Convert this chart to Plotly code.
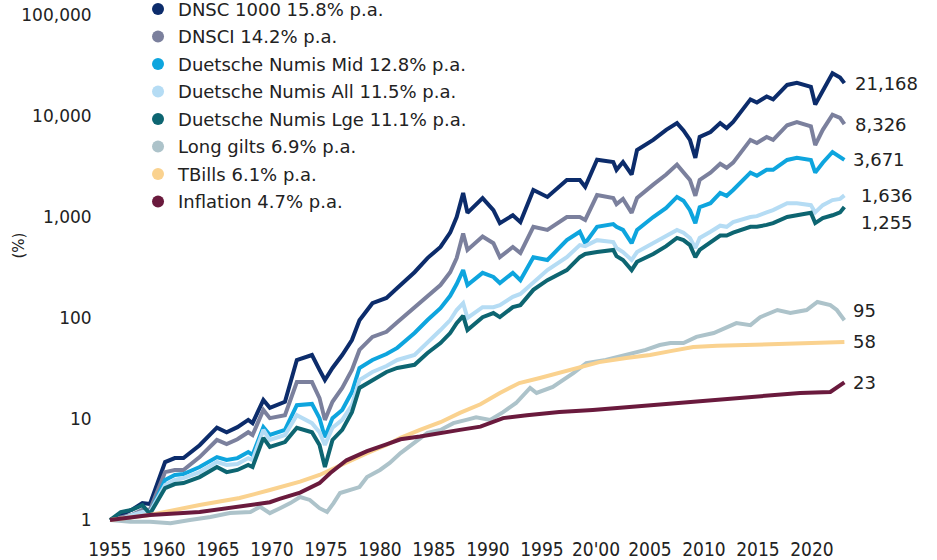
import math
import plotly.graph_objects as go

# ---------------- data ----------------
years = [1955.0, 1956.0, 1957.0, 1958.0, 1958.7, 1960.1, 1961.0, 1961.8, 1963.3, 1964.9,
         1965.8, 1966.8, 1967.8, 1968.2, 1969.2, 1969.8, 1971.2, 1972.3, 1973.7, 1974.4,
         1974.9, 1975.6, 1976.5, 1977.4, 1978.1, 1979.3, 1980.6, 1981.6, 1983.2, 1984.4,
         1985.6, 1986.5, 1987.1, 1987.7, 1988.1, 1989.5, 1990.5, 1991.1, 1992.3, 1993.0,
         1994.2, 1995.5, 1997.3, 1998.5, 1999.0, 2000.1, 2001.6, 2001.9, 2002.5, 2003.3,
         2003.8, 2005.3, 2006.5, 2007.5, 2008.1, 2008.7, 2009.2, 2009.6, 2010.6, 2011.5,
         2012.1, 2012.7, 2014.3, 2014.9, 2015.8, 2016.4, 2017.7, 2018.6, 2019.9, 2020.3,
         2021.0, 2021.9, 2022.6, 2023.0]

dnsc1000 = [1.0, 1.12, 1.26, 1.47, 1.44, 3.75, 4.1, 4.1, 5.5, 8.2,
            7.4, 8.3, 9.8, 9.1, 15.4, 12.9, 14.8, 38.4, 43, 30.6,
            24.3, 32, 43, 60.5, 95, 140, 158, 198, 284, 392,
            505, 700, 1000, 1730, 1100, 1540, 1170, 870, 1040, 890,
            1850, 1580, 2330, 2330, 1990, 3690, 3500, 2930, 3500, 2630,
            4600, 5800, 7300, 8500, 7200, 5800, 3850, 6200, 6950, 8500,
            7600, 8750, 14600, 13600, 15600, 14600, 20300, 21300, 19400, 13000,
            18000, 26500, 24000, 21168]

dnsci = [1.0, 1.05, 1.12, 1.26, 1.26, 2.98, 3.13, 3.13, 4.2, 6.2,
         5.65, 6.3, 7.4, 6.95, 12.3, 10.2, 10.9, 23.2, 23.2, 16.1,
         9.8, 14.8, 20.3, 30.6, 48.3, 65, 73, 91, 128, 169,
         212, 284, 392, 685, 472, 640, 550, 400, 505, 440,
         800, 745, 1000, 1000, 935, 1650, 1540, 1340, 1510, 1100,
         1540, 2090, 2630, 3300, 2810, 2330, 1620, 2330, 2750, 3370,
         3070, 3450, 5800, 5400, 6200, 5800, 8100, 8700, 7900, 5150,
         7300, 10300, 9600, 8326]

numis_mid = [1.0, 1.0, 1.07, 1.12, 1.17, 2.49, 2.79, 2.85, 3.35, 4.2,
             3.93, 4.1, 4.7, 4.4, 8.3, 6.95, 7.8, 13.7, 14.1, 10.2,
             6.6, 10.2, 12.3, 18.5, 32, 38.4, 44, 50.6, 71, 95.5,
             125, 166, 217, 298, 212, 280, 255, 222, 280, 237,
             400, 375, 590, 715, 550, 800, 850, 800, 745, 550,
             745, 1000, 1230, 1580, 1450, 1170, 870, 1250, 1370, 1730,
             1620, 1850, 2750, 2560, 2930, 2930, 3670, 3850, 3670, 2750,
             3450, 4400, 3850, 3671]

numis_all = [1.0, 1.02, 1.12, 1.2, 1.2, 2.22, 2.49, 2.6, 2.98, 3.75,
             3.51, 3.59, 4.1, 3.93, 7.8, 6.2, 6.95, 10.9, 9.1, 7.4,
             5.53, 8.2, 9.8, 13.7, 24.3, 29.2, 33.5, 38.4, 43, 56.5,
             76, 95.5, 120, 140, 100, 128, 128, 134, 162, 173,
             222, 298, 400, 527, 515, 590, 565, 493, 450, 375,
             450, 550, 655, 745, 700, 620, 493, 620, 715, 820,
             800, 890, 1000, 1020, 1110, 1170, 1370, 1370, 1310, 1110,
             1310, 1470, 1510, 1636]

numis_lge = [1.0, 1.2, 1.26, 1.4, 1.15, 2.07, 2.27, 2.32, 2.66, 3.35,
             2.98, 3.13, 3.51, 3.35, 6.5, 5.3, 5.9, 8.2, 7.4, 5.53,
             3.35, 6.2, 7.8, 11.7, 20.3, 24.3, 29.2, 32, 34.4, 45,
             56.5, 71, 89, 105, 76, 102, 112, 102, 128, 134,
             190, 237, 298, 400, 430, 450, 472, 410, 375, 298,
             360, 430, 515, 620, 590, 527, 400, 472, 565, 655,
             655, 700, 800, 800, 835, 870, 1000, 1040, 1100, 870,
             975, 1040, 1110, 1255]

gilts_years = [1955.0, 1956.9, 1958.7, 1960.6, 1962.4, 1964.3, 1966.1, 1968.0, 1968.9, 1969.8,
               1970.7, 1971.7, 1972.6, 1973.5, 1974.4, 1975.1, 1975.7, 1976.3, 1978.1, 1978.8,
               1980.0, 1980.9, 1981.9, 1983.1, 1984.4, 1985.6, 1986.8, 1988.0, 1988.9, 1990.2,
               1991.4, 1992.6, 1993.9, 1994.5, 1996.0, 1997.9, 1999.1, 2000.9, 2002.8, 2004.6,
               2005.9, 2006.9, 2008.1, 2009.3, 2010.9, 2012.1, 2013.0, 2014.3, 2015.2, 2016.8,
               2018.0, 2019.5, 2020.5, 2021.7, 2022.3, 2023.0]
gilts = [1.0, 0.96, 0.96, 0.93, 1.0, 1.07, 1.17, 1.2, 1.35, 1.17,
         1.3, 1.47, 1.69, 1.58, 1.31, 1.2, 1.47, 1.85, 2.12, 2.66,
         3.13, 3.67, 4.6, 5.8, 7.3, 7.8, 9.1, 9.8, 10.4, 9.8,
         11.7, 14.4, 20.3, 18.1, 20.8, 28.5, 35.8, 38.4, 43, 48.3,
         54, 56.5, 56.5, 65, 71, 81.5, 89, 85, 102, 120,
         112, 120, 144, 134, 120, 95]

tbills_years = [1955.0, 1958.7, 1963.3, 1967.0, 1969.8, 1972.6, 1974.4, 1975.4, 1976.9, 1978.8,
                1980.6, 1981.9, 1983.7, 1985.6, 1987.4, 1989.3, 1991.1, 1992.9, 1994.8, 1996.6,
                1998.5, 2000.3, 2002.8, 2005.0, 2006.9, 2009.0, 2011.2, 2016.0, 2023.0]
tbills = [1.0, 1.12, 1.41, 1.65, 1.98, 2.4, 2.79, 3.13, 3.75, 4.6,
          5.53, 6.5, 7.8, 9.3, 11.5, 14.0, 18.1, 22.7, 25.5, 28.5,
          32.7, 36.6, 40.2, 43, 47, 51.5, 53, 55, 58]

infl_years = [1955.0, 1958.7, 1963.3, 1967.0, 1969.8, 1970.7, 1972.6, 1974.4, 1975.4, 1976.9,
              1978.8, 1980.6, 1981.9, 1983.7, 1985.6, 1987.4, 1989.3, 1990.2, 1991.4, 1993.6,
              1996.6, 1999.7, 2002.8, 2005.9, 2008.5, 2011.2, 2014.3, 2018.9, 2021.7, 2023.0]
inflation = [1.0, 1.12, 1.2, 1.35, 1.5, 1.62, 1.87, 2.32, 2.92, 3.9,
             4.8, 5.6, 6.3, 6.7, 7.3, 7.8, 8.4, 9.1, 10.2, 10.9,
             11.7, 12.3, 13.1, 13.7, 14.5, 15.4, 16.5, 18.1, 18.5, 23]

series_names = ["DNSC 1000 15.8% p.a.", "DNSCI 14.2% p.a.", "Duetsche Numis Mid 12.8% p.a.",
                "Duetsche Numis All 11.5% p.a.", "Duetsche Numis Lge 11.1% p.a.",
                "Long gilts 6.9% p.a.", "TBills 6.1% p.a.", "Inflation 4.7% p.a."]
end_labels = ["21,168", "8,326", "3,671", "1,636", "1,255", "95", "58", "23"]

x_tickvals = [1955, 1960, 1965, 1970, 1975, 1980, 1985, 1990, 1995, 2000, 2005, 2010, 2015, 2020]
x_ticktext = ["1955", "1960", "1965", "1970", "1975", "1980", "1985", "1990", "1995",
              "20'00", "2005", "2010", "2015", "2020"]
y_tickvals = [1, 10, 100, 1000, 10000, 100000]
y_ticktext = ["1", "10", "100", "1,000", "10,000", "100,000"]

# ---------------- styling ----------------
colors = ["#0c2c6b", "#7b809d", "#0ea5de", "#b5dcf4", "#0d6571", "#adc3ca", "#fad28f", "#6a1a3d"]
FONT = "DejaVu Sans"
TXT = "#222222"

xs = [years, years, years, years, years, gilts_years, tbills_years, infl_years]
ys = [dnsc1000, dnsci, numis_mid, numis_all, numis_lge, gilts, tbills, inflation]

fig = go.Figure()
for i in range(8):
    fig.add_trace(go.Scatter(x=xs[i], y=ys[i], mode="lines",
                             line=dict(color=colors[i], width=4),
                             showlegend=False, hoverinfo="skip"))
for i in range(8):
    fig.add_trace(go.Scatter(x=[None], y=[None], mode="markers", name=series_names[i],
                             marker=dict(color=colors[i], size=15),
                             legendgroup="g%d" % i, showlegend=True))

label_shift = [0, 0, 0, 0, -15, 10, 0, 0]
label_xshift = [753, 753, 751, 759, 759, 751, 751, 751]
for i in range(8):
    fig.add_annotation(x=0, xref="paper", y=math.log10(ys[i][-1]), yref="y",
                       text=end_labels[i], showarrow=False, xanchor="left",
                       xshift=label_xshift[i], yshift=label_shift[i],
                       font=dict(family=FONT, size=18, color=TXT))

fig.add_annotation(x=-0.1223, xref="paper", y=2.72, yref="y", text="(%)", textangle=-90,
                   showarrow=False, font=dict(family=FONT, size=15, color=TXT))

fig.update_layout(
    width=937, height=560,
    margin=dict(l=100, r=87, t=10, b=30, autoexpand=False),
    paper_bgcolor="white", plot_bgcolor="white",
    font=dict(family=FONT, size=17, color=TXT),
    showlegend=True,
    legend=dict(x=0.0507, y=1.037, xanchor="left", yanchor="top",
                bgcolor="rgba(0,0,0,0)", tracegroupgap=1.1,
                font=dict(family=FONT, size=18, color=TXT), itemsizing="constant"),
    xaxis=dict(range=[1954.074, 2023.52], tickvals=x_tickvals, ticktext=x_ticktext,
               showgrid=False, zeroline=False, showline=False,
               ticks="outside", ticklen=2, tickcolor="rgba(0,0,0,0)",
               tickfont=dict(family="DejaVu Sans Condensed", size=19, color=TXT)),
    yaxis=dict(type="log", range=[-0.099, 5.0495], tickvals=y_tickvals, ticktext=y_ticktext,
               showgrid=False, zeroline=False, showline=False,
               ticks="outside", ticklen=4, tickcolor="rgba(0,0,0,0)",
               tickfont=dict(family=FONT, size=17, color=TXT)),
)

fig.write_html("out.html", config={"displayModeBar": False},
               post_script="document.body.style.margin='0';")
